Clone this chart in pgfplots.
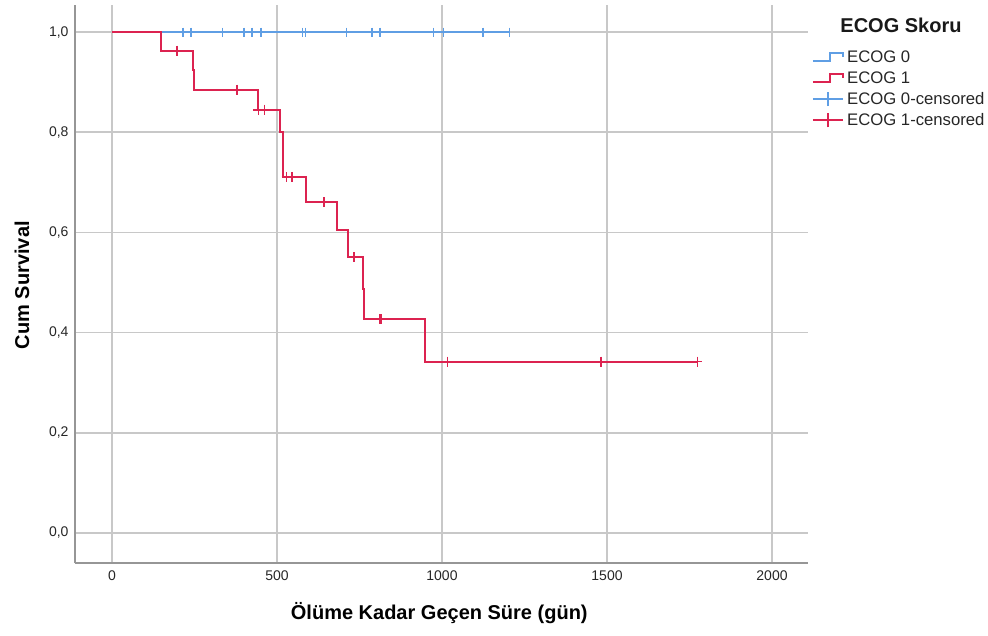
\documentclass[border=0pt]{standalone}
\usepackage{pgfplots}
\pgfplotsset{compat=1.18}
\usepackage{fontspec}
\setmainfont{Liberation Sans}
\definecolor{ecogblue}{RGB}{95,158,228}
\definecolor{ecogred}{RGB}{220,35,80}
\definecolor{gridgray}{RGB}{200,200,200}
\definecolor{axisgray}{RGB}{150,150,150}
\begin{document}
\begin{tikzpicture}
\path[use as bounding box] (0pt,0pt) rectangle (988pt,635pt);
\begin{axis}[
  at={(75pt,72pt)}, anchor=south west,
  scale only axis, width=733pt, height=558pt,
  xmin=-112, xmax=2109, ymin=-0.060, ymax=1.054,
  axis lines=left,
  axis line style={axisgray, line width=1.8pt, -},
  grid=major, grid style={gridgray, line width=1.8pt},
  xtick={0,500,1000,1500,2000},
  xticklabels={0,500,1000,1500,2000},
  ytick={0,0.2,0.4,0.6,0.8,1.0},
  yticklabels={{0,0},{0,2},{0,4},{0,6},{0,8},{1,0}},
  major tick length=0pt,
  tick label style={font=\fontsize{14}{16}\selectfont, text=black!85},
  xticklabel style={yshift=-4pt},
  yticklabel style={xshift=-3pt},
  xlabel={\bfseries Ölüme Kadar Geçen Süre (gün)},
  ylabel={\bfseries Cum Survival},
  label style={font=\fontsize{20}{24}\selectfont},
  xlabel style={at={(axis description cs:0.497,-0.0896)}, anchor=center},
  ylabel style={at={(axis description cs:-0.0723,0.498)}, anchor=center},
  legend style={at={(axis description cs:1.0050,0.921)}, anchor=north west,
    draw=none, fill=none, inner sep=0pt, row sep=4.6pt,
    font=\fontsize{16.7}{18}\selectfont, text=black!85,
    nodes={inner sep=1.5pt}},
  legend cell align=left,
  clip=false,
]
% ECOG 0 survival
\addplot[const plot, ecogblue, line width=2pt,
  legend image code/.code={\draw[ecogblue, line width=1.8pt] (0pt,-4pt) -- (17pt,-4pt) -- (17pt,4pt) -- (30pt,4pt) -- (30pt,0pt);}]
  coordinates {(0,1) (1204,1)};
\addlegendentry{\hspace{2pt}ECOG 0}
% ECOG 1 survival
\addplot[const plot, ecogred, line width=2pt,
  legend image code/.code={\draw[ecogred, line width=1.8pt] (0pt,-4pt) -- (17pt,-4pt) -- (17pt,4pt) -- (30pt,4pt) -- (30pt,0pt);}]
  coordinates {(0,1) (148,0.963) (245,0.924) (250,0.885) (442,0.845) (509,0.801)
    (519,0.711) (588,0.660) (683,0.605) (716,0.550) (760,0.488) (764,0.427)
    (950,0.342) (1774,0.342)};
\addlegendentry{\hspace{2pt}ECOG 1}
% ECOG 0 censored
\addplot[only marks, mark=|, mark size=4.5pt, ecogblue, mark options={line width=1.6pt},
  legend image code/.code={\draw[ecogblue, line width=1.8pt] (0pt,0pt) -- (30pt,0pt); \draw[ecogblue, line width=1.6pt] (15pt,-7pt) -- (15pt,7pt);}]
  coordinates {(216,1) (239,1) (335,1) (400,1) (425,1) (452,1) (577,1) (587,1)
    (711,1) (787,1) (812,1) (974,1) (1004,1) (1125,1) (1204,1)};
\addlegendentry{\hspace{2pt}ECOG 0-censored}
% ECOG 1 censored
\addplot[only marks, mark=+, mark size=5pt, ecogred, mark options={line width=1.7pt},
  legend image code/.code={\draw[ecogred, line width=1.8pt] (0pt,0pt) -- (30pt,0pt); \draw[ecogred, line width=1.6pt] (15pt,-7pt) -- (15pt,7pt);}]
  coordinates {(197,0.963) (378,0.885) (444,0.845) (462,0.845) (529,0.711) (546,0.711)
    (642,0.660) (734,0.550) (812,0.427) (817,0.427) (1017,0.342) (1482,0.342) (1774,0.342)};
\addlegendentry{\hspace{2pt}ECOG 1-censored}
\end{axis}
\node[font=\bfseries\fontsize{20}{24}\selectfont, text=black!90] at (901pt,610pt) {ECOG Skoru};
\end{tikzpicture}
\end{document}
